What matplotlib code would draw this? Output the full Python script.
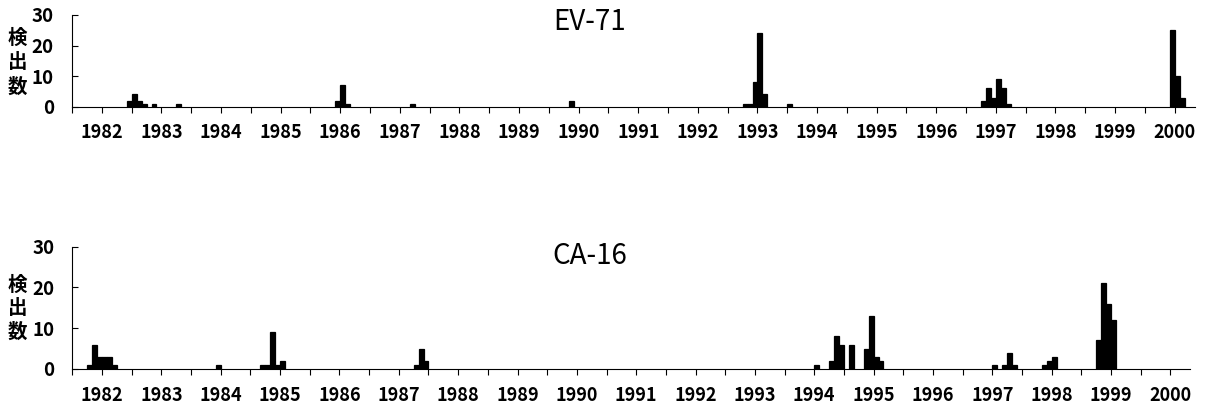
import numpy as np
import matplotlib
matplotlib.use('Agg')
import matplotlib.pyplot as plt

plt.rcParams['font.family'] = ['Noto Sans CJK JP', 'DejaVu Sans']

# monthly detection counts (year, month, count)
ev71_year = [1982, 1982, 1982, 1982, 1982, 1983, 1985, 1986, 1986, 1987, 1989,
             1992, 1992, 1992, 1993, 1993, 1993, 1996, 1996, 1996, 1997, 1997,
             1997, 1999, 2000, 2000]
ev71_month = [6, 7, 8, 9, 11, 4, 12, 1, 2, 3, 11,
              10, 11, 12, 1, 2, 7, 10, 11, 12, 1, 2,
              3, 12, 1, 2]
ev71_count = [2, 4, 2, 1, 1, 1, 2, 7, 1, 1, 2,
              1, 1, 8, 24, 4, 1, 2, 6, 3, 9, 6,
              1, 25, 10, 3]

ca16_year = [1981, 1981, 1981, 1982, 1982, 1982, 1983, 1984, 1984, 1984, 1984,
             1985, 1987, 1987, 1987, 1994, 1994, 1994, 1994, 1994, 1994, 1994,
             1995, 1995, 1997, 1997, 1997, 1997, 1997, 1997, 1998, 1998, 1998,
             1998, 1999]
ca16_month = [10, 11, 12, 1, 2, 3, 12, 9, 10, 11, 12,
              1, 4, 5, 6, 1, 4, 5, 6, 8, 11, 12,
              1, 2, 1, 3, 4, 5, 11, 12, 1, 10, 11,
              12, 1]
ca16_count = [1, 6, 3, 3, 3, 1, 1, 1, 1, 9, 1,
              2, 1, 5, 2, 1, 2, 8, 6, 6, 5, 13,
              3, 2, 1, 1, 4, 1, 1, 2, 3, 7, 21,
              16, 12]

year_labels = [str(y) for y in range(1982, 2001)]
ylabel = '検\n出\n数'


def month_pos(years, months):
    return (np.array(years) - 1982) * 12 + (np.array(months) - 1)


def draw(ax, years, months, counts):
    pos = month_pos(years, months)
    ax.bar(pos, counts, width=1.0, align='edge', color='black',
           edgecolor='black', linewidth=0.9)
    ax.set_xlim(-6, 220)
    ax.set_ylim(0, 30)
    ax.spines['top'].set_visible(False)
    ax.spines['right'].set_visible(False)
    ax.spines['left'].set_linewidth(0.8)
    ax.spines['bottom'].set_linewidth(0.8)
    ax.set_xticks(np.arange(0, 217, 12))
    ax.set_xticklabels(year_labels, fontsize=13, fontweight='bold')
    ax.set_xticks(np.arange(-6, 220, 12), minor=True)
    ax.tick_params(axis='x', which='both', direction='out', length=4,
                   width=0.8, pad=8)
    ax.set_yticks([0, 10, 20, 30])
    ax.set_yticklabels(['0', '10', '20', '30'], fontsize=13.5,
                       fontweight='bold')
    ax.tick_params(axis='y', direction='in', length=4, width=0.8, pad=13)


fig = plt.figure(figsize=(12.07, 4.08), dpi=100)
ax1 = fig.add_axes([0.0597, 0.7385, 0.930, 0.2248])
ax2 = fig.add_axes([0.0600, 0.0956, 0.926, 0.2998])

draw(ax1, ev71_year, ev71_month, ev71_count)
draw(ax2, ca16_year, ca16_month, ca16_count)

fig.text(0.4888, 0.946, 'EV-71', fontsize=20, ha='center', va='center')
fig.text(0.4888, 0.372, 'CA-16', fontsize=20, ha='center', va='center')

fig.text(0.0145, 0.847, ylabel, fontsize=14, fontweight='bold',
         ha='center', va='center', linespacing=1.35)
fig.text(0.0145, 0.244, ylabel, fontsize=14, fontweight='bold',
         ha='center', va='center', linespacing=1.3)

fig.savefig('out.png', dpi=100)
